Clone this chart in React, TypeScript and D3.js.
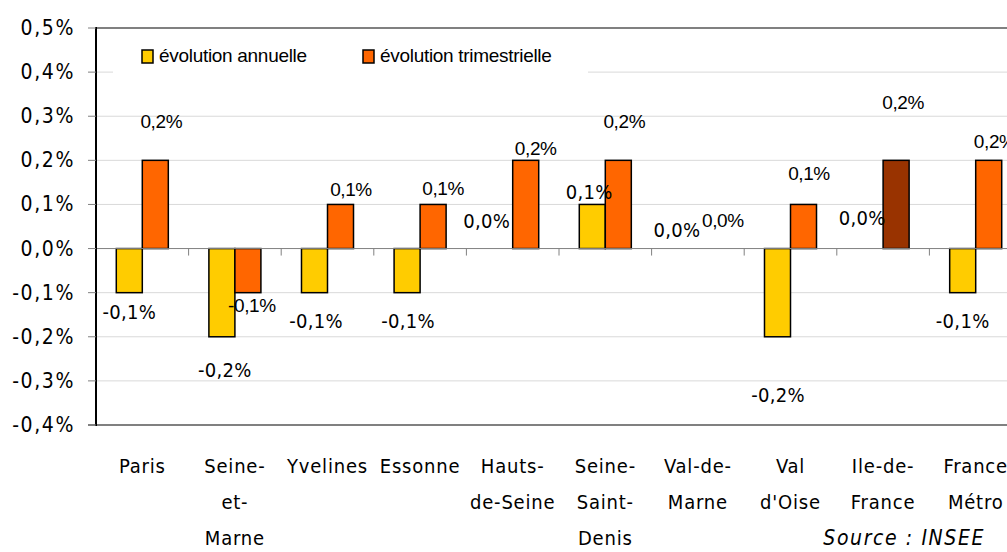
import React from 'react';
import * as d3 from 'd3';

// données : évolution de l'emploi salarié, Ile-de-France
const categories = ['Paris', 'Seine-et-Marne', 'Yvelines', 'Essonne', 'Hauts-de-Seine', 'Seine-Saint-Denis', 'Val-de-Marne', "Val d'Oise", 'Ile-de-France', 'France Métro'];
const categoryLines = [['Paris'], ['Seine-', 'et-', 'Marne'], ['Yvelines'], ['Essonne'], ['Hauts-', 'de-Seine'], ['Seine-', 'Saint-', 'Denis'], ['Val-de-', 'Marne'], ['Val', "d'Oise"], ['Ile-de-', 'France'], ['France', 'Métro']];
const annuelle = [-0.1, -0.2, -0.1, -0.1, 0.0, 0.1, 0.0, -0.2, 0.0, -0.1];
const trimestrielle = [0.2, -0.1, 0.1, 0.1, 0.2, 0.2, 0.0, 0.1, 0.2, 0.2];
const yTicks = [-0.4, -0.3, -0.2, -0.1, 0.0, 0.1, 0.2, 0.3, 0.4, 0.5];
const seriesNames = ['évolution annuelle', 'évolution trimestrielle'];

// label nudges (px) as placed in the original workbook
const annNudge = [[0, 26], [3, 40], [1.5, 35], [1, 35], [-13, -21], [-3, -5], [-8, -12], [0.5, 65], [-8, -24], [0, 35]];
const triNudge = [[6, -32], [4, 19], [10.5, -8], [10, -9], [10, -5], [6, -32], [12, -22], [5.5, -24], [7, -51], [6, -12]];

const W = 1007, H = 552;
const left = 96, top = 28, bottom = 425;
const step = 92.6;
const YELLOW = '#FFCC00', ORANGE = '#FF6600', BROWN = '#993300';
const tahoma = '"DejaVu Sans Condensed", "DejaVu Sans", sans-serif';
const arial = '"Liberation Sans", Arial, sans-serif';

const fmt = (v: number) => (v < 0 ? '-' : '') + Math.abs(v).toFixed(1).replace('.', ',') + '%';

export default function App() {
  const x = d3.scaleBand<string>().domain(categories).range([left, left + step * categories.length]).padding(0);
  const xs = d3.scaleBand<string>().domain(['ann', 'tri']).range([0, x.bandwidth()]).paddingInner(0).paddingOuter(0.78);
  const y = d3.scaleLinear().domain([-0.4, 0.5]).range([bottom, top]);
  const right = W + 20;

  return (
    <svg width={W} height={H} style={{ position: 'absolute', left: 0, top: 0, background: '#fff' }}>
      {/* gridlines */}
      {yTicks.filter(t => t !== 0 && t !== -0.4 && t !== 0.5).map(t => (
        <line key={t} x1={left} x2={right} y1={y(t)} y2={y(t)} stroke="#d9d9d9" strokeWidth={1} />
      ))}
      {/* legend box (hides gridline) */}
      <rect x={113} y={40} width={475} height={44} fill="#fff" />
      <rect x={142} y={50} width={11} height={13} fill={YELLOW} stroke="#000" strokeWidth={1.5} />
      <text x={159} y={62} fontFamily={arial} fontSize={19} letterSpacing={-0.3} fill="#000">{seriesNames[0]}</text>
      <rect x={363} y={50} width={11} height={13} fill={ORANGE} stroke="#000" strokeWidth={1.5} />
      <text x={380} y={62} fontFamily={arial} fontSize={19} letterSpacing={-0.3} fill="#000">{seriesNames[1]}</text>

      {/* borders */}
      <line x1={left} x2={right} y1={y(0.5)} y2={y(0.5)} stroke="#808080" strokeWidth={2} />
      <line x1={left - 8} x2={right} y1={y(-0.4)} y2={y(-0.4)} stroke="#808080" strokeWidth={2} />

      {/* bars */}
      {categories.map((c, i) => {
        const x0 = x(c)!;
        const a = annuelle[i], t = trimestrielle[i];
        return (
          <g key={c}>
            {a !== 0 && (
              <rect x={x0 + xs('ann')!} width={xs.bandwidth()} y={y(Math.max(0, a))} height={Math.abs(y(a) - y(0))}
                fill={YELLOW} stroke="#000" strokeWidth={1.5} />
            )}
            {t !== 0 && (
              <rect x={x0 + xs('tri')!} width={xs.bandwidth()} y={y(Math.max(0, t))} height={Math.abs(y(t) - y(0))}
                fill={c === 'Ile-de-France' ? BROWN : ORANGE} stroke="#000" strokeWidth={1.5} />
            )}
          </g>
        );
      })}

      {/* zero line and category ticks */}
      <line x1={left} x2={right} y1={y(0)} y2={y(0)} stroke="#808080" strokeWidth={1} />
      {categories.slice(1).map(c => (
        <line key={c} x1={x(c)!} x2={x(c)!} y1={y(0)} y2={y(0) + 7} stroke="#808080" strokeWidth={1} />
      ))}

      {/* y axis */}
      <line x1={left} x2={left} y1={y(0.5) - 1} y2={y(-0.4) + 1} stroke="#000" strokeWidth={2} />
      {yTicks.map(t => (
        <g key={t}>
          <line x1={left - 8} x2={left} y1={y(t)} y2={y(t)} stroke="#808080" strokeWidth={1} />
          <text x={75} y={y(t) + 7} textAnchor="end" fontFamily={tahoma} fontSize={21} letterSpacing={1.6} fill="#000">{fmt(t)}</text>
        </g>
      ))}

      {/* data labels */}
      {categories.map((c, i) => {
        const x0 = x(c)!;
        const ca = x0 + xs('ann')! + xs.bandwidth() / 2;
        const ct = x0 + xs('tri')! + xs.bandwidth() / 2;
        return (
          <g key={c}>
            <text x={ca + annNudge[i][0]} y={y(annuelle[i]) + annNudge[i][1]} textAnchor="middle"
              fontFamily={tahoma} fontSize={20} letterSpacing={0.3} fill="#000">{fmt(annuelle[i])}</text>
            <text x={ct + triNudge[i][0]} y={y(trimestrielle[i]) + triNudge[i][1]} textAnchor="middle"
              fontFamily={arial} fontSize={19} letterSpacing={-0.4} fill="#000">{fmt(trimestrielle[i])}</text>
          </g>
        );
      })}

      {/* category labels */}
      {categories.map((c, i) => (
        <text key={c} x={x(c)! + x.bandwidth() / 2} textAnchor="middle" fontFamily={tahoma} fontSize={20} letterSpacing={0.8} fill="#000">
          {categoryLines[i].map((l, j) => (
            <tspan key={j} x={x(c)! + x.bandwidth() / 2} y={473 + 36 * j}>{l}</tspan>
          ))}
        </text>
      ))}

      <text x={985} y={545} textAnchor="end" fontFamily={tahoma} fontStyle="italic" fontSize={21} letterSpacing={1.6} fill="#000">Source : INSEE</text>
    </svg>
  );
}
